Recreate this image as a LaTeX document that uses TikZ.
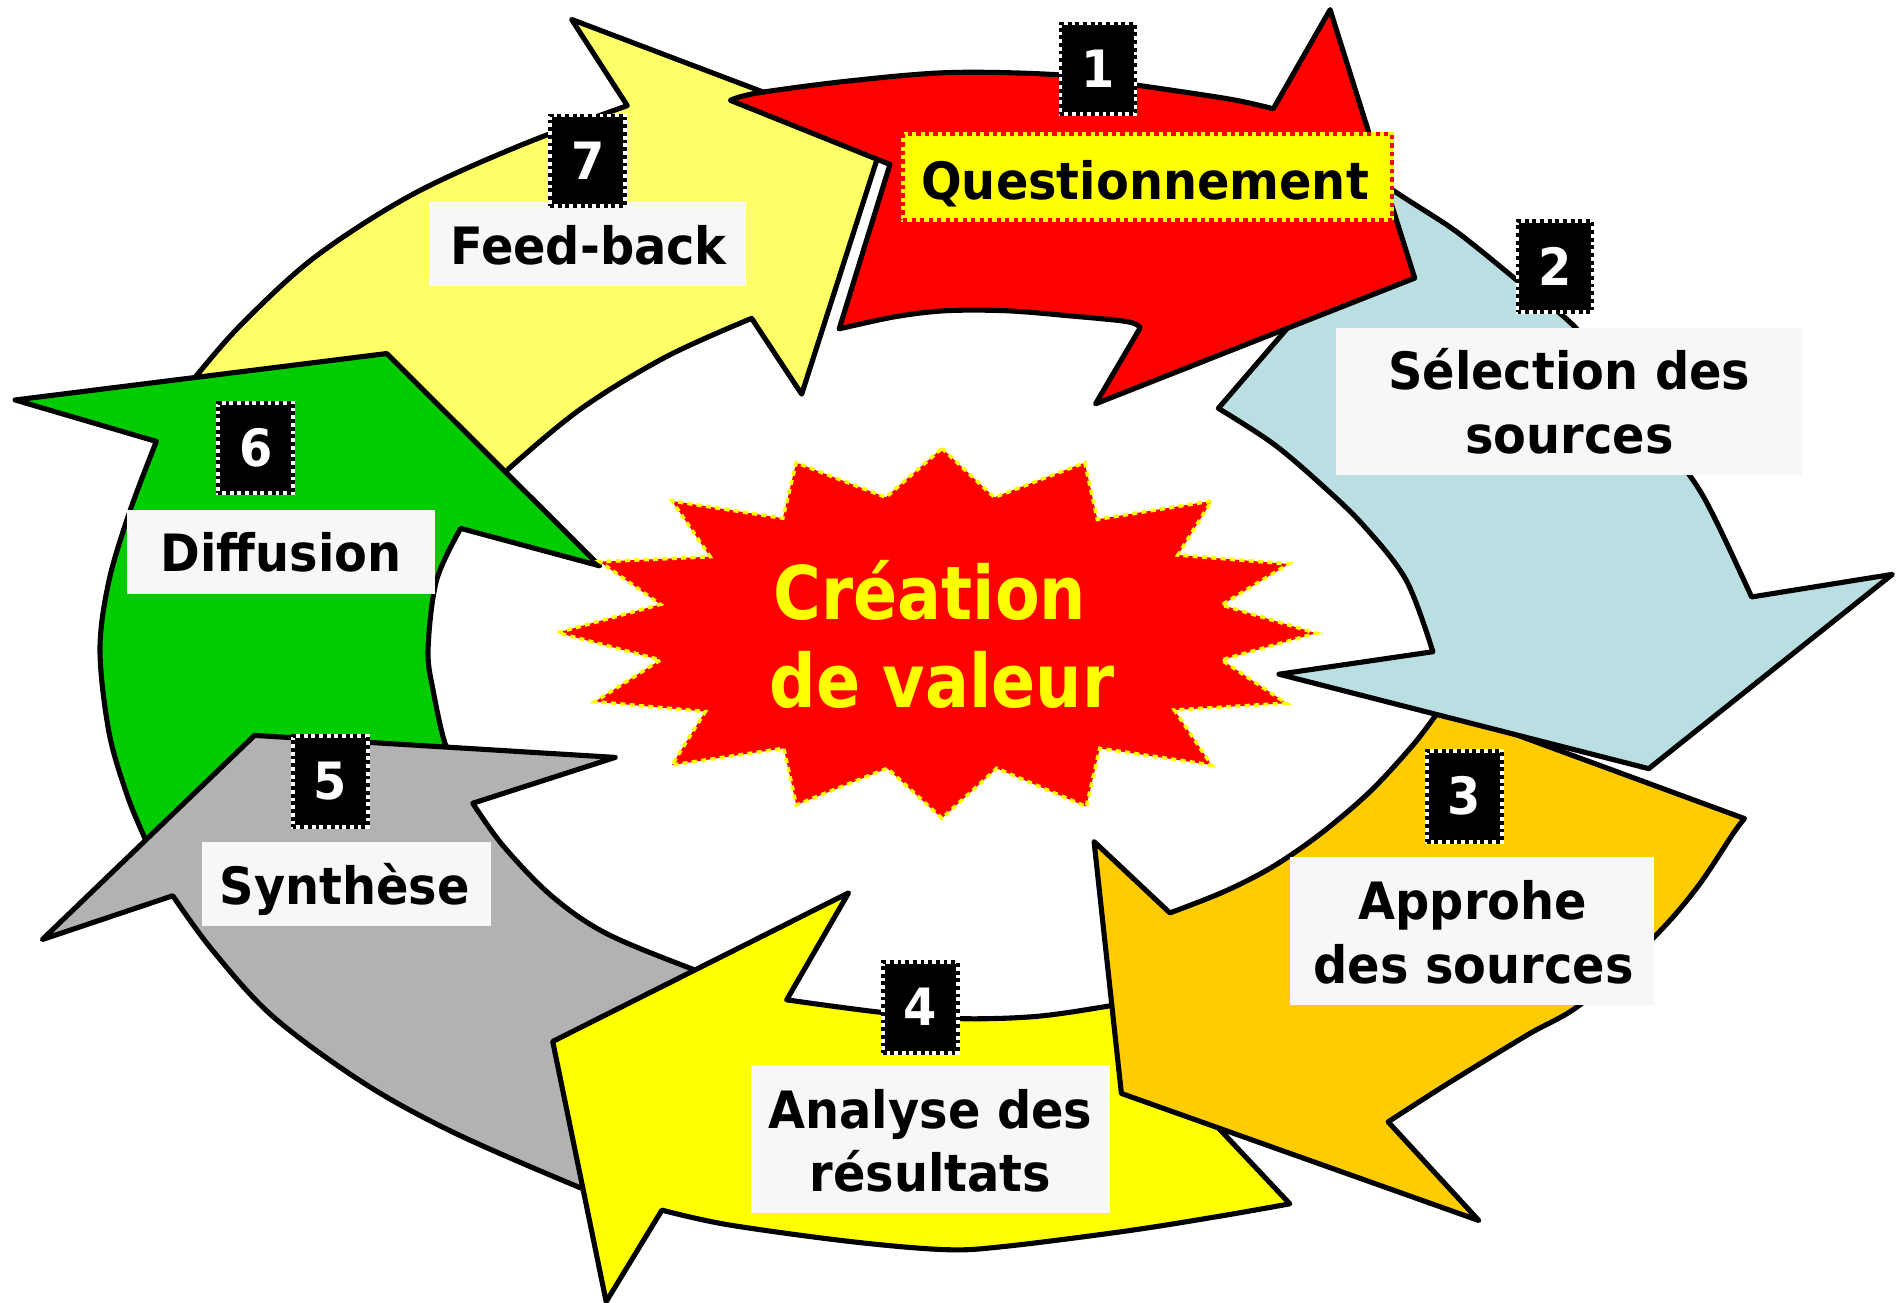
\documentclass[tikz,border=0pt]{standalone}
\usepackage{fontspec}
\newfontfamily\lab{DejaVu Sans}[FakeStretch=0.93]
\newfontfamily\ctr{DejaVu Sans}[FakeStretch=0.88]
\definecolor{cred}{HTML}{FF0000}
\definecolor{clyel}{HTML}{FFFF66}
\definecolor{cblue}{HTML}{BADFE3}
\definecolor{corange}{HTML}{FFCC00}
\definecolor{cyel}{HTML}{FFFF00}
\definecolor{cgray}{HTML}{B2B2B2}
\definecolor{cgreen}{HTML}{00CC00}
\definecolor{labbg}{HTML}{F7F7F7}
\begin{document}
\begin{tikzpicture}[x=0.01cm,y=-0.01cm,
  arr/.style={draw=black,line width=1.2pt,line join=round},
  labbox/.style={fill=labbg,inner sep=0pt},
  labtxt/.style={font=\lab\bfseries\fontsize{12.1pt}{15pt}\selectfont,inner sep=0pt,anchor=base,text=black},
  ctrtxt/.style={font=\ctr\bfseries\fontsize{17.4pt}{21pt}\selectfont,inner sep=0pt,anchor=base,text=cyel},
  numbox/.style={fill=black,draw=white,line width=0.9pt,inner sep=0pt,minimum width=0.62cm,minimum height=0.75cm,text=white,
    font=\lab\bfseries\fontsize{12.1pt}{15pt}\selectfont,
    postaction={draw=black,line width=0.9pt,dash pattern=on 0.9pt off 0.9pt}},
  smoothplot/.style={smooth,tension=0.55}
]
\useasboundingbox (0,0) rectangle (1568,1077.6);

% cut-off title fragments at the top edge
\node[font=\lab\bfseries\fontsize{18pt}{20pt}\selectfont,anchor=base,inner sep=0pt] (tity) at (343,-20) {y};
\node[font=\lab\bfseries\fontsize{18pt}{20pt}\selectfont,anchor=base,inner sep=0pt] (titg) at (914,-20) {g};

% 7 Feed-back (light yellow)
\filldraw[arr,fill=clyel] (145,333) -- plot[smoothplot] coordinates {(145,333) (163,310) (200.5,267.4) (260.6,212.5) (340.8,161) (431,120) (518.8,87.4)}
  -- (472.7,16.1) -- (731,114) -- (663,326) -- (621.6,263.3)
  -- plot[smoothplot] coordinates {(621.6,263.3) (551.4,294.8) (481,337.7) (421,387.4) (405,405)}
  -- (300,360) -- cycle;

% 6 Diffusion (green)
\filldraw[arr,fill=cgreen] (12.5,330.8) -- (319.8,292.4) -- (496,468) -- (381,437)
  -- plot[smoothplot] coordinates {(381,437) (361,480) (354,537.5) (358.4,572) (368.4,615.7) (380,630)}
  -- (250,655) -- (130,715)
  -- plot[smoothplot] coordinates {(130,715) (120.3,694.3) (105.3,658) (90.2,606) (82.7,537.5) (90.2,480) (107.8,421.7) (129.3,365.1)}
  -- cycle;

% 5 Synthese (gray)
\filldraw[arr,fill=cgray] (210.5,608.2) -- (508.8,626.4) -- (391,664.3)
  -- plot[smoothplot] coordinates {(391,664.3) (416,699.4) (456,740.8) (501,771.8) (571.4,801) (612,815)}
  -- (560,900) -- (508,992)
  -- plot[smoothplot] coordinates {(508,992) (478.7,981.8) (376,937) (300.8,895.7) (225.6,840.6) (175.4,785.5) (142.9,740.8)}
  -- (35,777) -- cycle;

% 4 Analyse (yellow)
\filldraw[arr,fill=cyel] (935,828) -- (988,912) -- (1066.7,995.6)
  -- plot[smoothplot] coordinates {(1066.7,995.6) (1007.6,1006) (932,1018) (832,1030.7) (782,1033.5) (701.8,1026.6) (601.5,1012.8) (547.4,1000.8)}
  -- (501.3,1076.5) -- (457.1,861.3) -- (701.8,738.4) -- (650.6,826.9)
  -- plot[smoothplot] coordinates {(650.6,826.9) (726.8,837) (792,842.4) (857,840.6) (917,832) (935,828)}
  -- cycle;

% 3 Approche (orange)
\filldraw[arr,fill=corange] (1180,580) -- (1225,597) -- (1442.7,677)
  -- plot[smoothplot] coordinates {(1442.7,677) (1433.6,689) (1403.5,734) (1368,775) (1308,830) (1263,856) (1198,895.7) (1148,927.8)}
  -- (1223,1009.4) -- (927.4,904.3) -- (904.8,696) -- (967.5,755)
  -- plot[smoothplot] coordinates {(967.5,755) (1012.6,737.3) (1052.7,716.7) (1092.8,689) (1133,654.7) (1168,616.8) (1187,592)}
  -- cycle;

% 2 Selection (light blue)
\filldraw[arr,fill=cblue] (1130,140)
  -- plot[smoothplot] coordinates {(1130,140) (1153,158) (1198,187) (1223,206) (1256,233) (1303,271) (1350,330) (1398,394) (1418,428.5) (1448.6,493.7)}
  -- (1565,475) -- (1363.5,635.7) -- (1057.7,557.6) -- (1185,539)
  -- plot[smoothplot] coordinates {(1185,539) (1163,480) (1128,435) (1093,401) (1052.7,366.8) (1007.6,337.7)}
  -- (1115,213) -- cycle;

% 1 Questionnement (red)
\filldraw[arr,fill=cred] (604,83)
  -- plot[smoothplot] coordinates {(604,83) (626,77) (702,67) (786,60) (877,62) (937,70) (1017,82) (1053,90)}
  -- (1100,8) -- (1170,230) -- (906,334) -- (943,271)
  -- plot[smoothplot] coordinates {(943,271) (932,266) (882,261) (832,257) (782,257) (740,262) (694,272)}
  -- (736,136) -- cycle;

% central star
\filldraw[fill=cred,draw=cyel,line width=0.85pt,dash pattern=on 1.2pt off 1pt,line join=miter]
  (779,370.8) -- (822.3,411.3) -- (897.1,382.6) -- (907.5,429.5) -- (1002,414.3) -- (974.1,459)
  -- (1065.8,466.4) -- (1010.3,500.3) -- (1088.5,523.7) -- (1010.3,545.8) -- (1063.8,581.6)
  -- (971.2,587.2) -- (1002,632.7) -- (909.5,618.9) -- (898.4,667.1) -- (824.3,635.4)
  -- (779,676.8) -- (733.8,635.4) -- (658.5,665.7) -- (648.2,618.9) -- (555.7,632.7)
  -- (583.2,588.5) -- (491.9,580.3) -- (546.1,545.8) -- (461,523.2) -- (546.1,499.8)
  -- (496,464.5) -- (587.3,460.4) -- (555.7,414.3) -- (647.4,428.6) -- (658.5,382.6)
  -- (732.6,411.3) -- cycle;
\node[ctrtxt] (c1) at (769,512) {Création};
\node[ctrtxt] (c2) at (779,585) {de valeur};

% label boxes
\node[fill=cyel,draw=cyel,line width=0.94pt,inner sep=0pt,minimum width=4.04cm,minimum height=0.71cm,
  postaction={draw=cred,line width=0.94pt,dash pattern=on 1pt off 1pt}] (qbox) at (949,146.5) {};
\node[labtxt] (qtxt) at (947,165.4) {Questionnement};

\node[labbox,minimum width=2.62cm,minimum height=0.695cm] (fbox) at (485.5,201.75) {};
\node[labtxt] (ftxt) at (486.7,218.7) {Feed-back};

\node[labbox,minimum width=2.55cm,minimum height=0.693cm] (dbox) at (232.5,456.4) {};
\node[labtxt] (dtxt) at (232.5,473) {Diffusion};

\node[labbox,minimum width=3.847cm,minimum height=1.215cm] (sbox) at (1297.4,332.3) {};
\node[labtxt] (stxt1) at (1297.8,322.3) {Sélection des};
\node[labtxt] (stxt2) at (1298,375.4) {sources};

\node[labbox,minimum width=3.014cm,minimum height=1.223cm] (abox) at (1217.3,769.9) {};
\node[labtxt] (atxt1) at (1218,760.8) {Approhe};
\node[labtxt] (atxt2) at (1218.6,813) {des sources};

\node[labbox,minimum width=2.965cm,minimum height=1.22cm] (rbox) at (769.8,942) {};
\node[labtxt] (rtxt1) at (769.5,932.9) {Analyse des};
\node[labtxt] (rtxt2) at (769.5,985.3) {résultats};

\node[labbox,minimum width=2.39cm,minimum height=0.697cm] (ybox) at (286.5,731.2) {};
\node[labtxt] (ytxt) at (285.2,747.7) {Synthèse};

% number boxes
\node[numbox] (n1) at (908,57) {1};
\node[numbox] (n2) at (1286,220.5) {2};
\node[numbox] (n3) at (1211,658.5) {3};
\node[numbox] (n4) at (761,833) {4};
\node[numbox] (n5) at (273,646.3) {5};
\node[numbox] (n6) at (211.5,370.5) {6};
\node[numbox] (n7) at (486,133) {7};
\end{tikzpicture}
\end{document}
